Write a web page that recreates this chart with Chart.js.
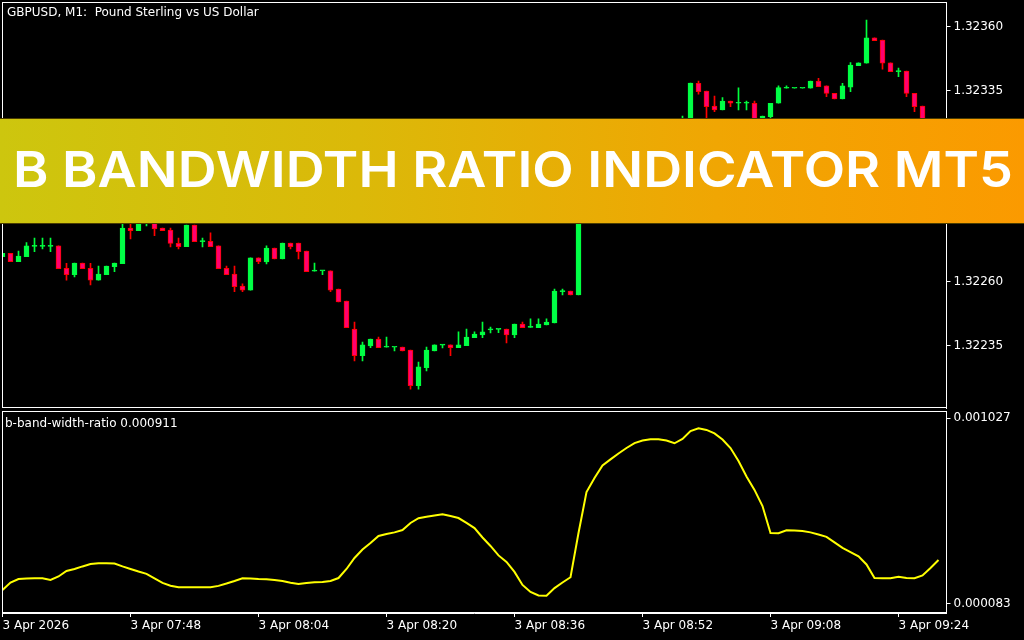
<!DOCTYPE html>
<html>
<head>
<meta charset="utf-8">
<script src="https://cdn.jsdelivr.net/npm/chart.js@4/dist/chart.umd.min.js"></script>
<style>
  body { margin: 0; background: #000; width: 1024px; height: 640px; overflow: hidden; position: relative; font-family: "DejaVu Sans", sans-serif; }
  canvas { position: absolute; left: 0; }
  #main { top: 0; }
  #ind { top: 409px; }
  .lbl { position: absolute; color: #fff; font-size: 12px; line-height: 14px; white-space: pre; }
  #banner { position: absolute; left: 0; top: 118px; width: 1024px; height: 104px;
    background: linear-gradient(90deg, #cdc60e 0%, #dbb909 35%, #f0a603 70%, #fb9a00 100%);
    border-top: 1px solid #4a3c00; border-bottom: 1px solid #4a3c00; overflow: hidden; }
  #banner span { position: absolute; left: 13px; top: 20px; color: #fff; font-family: Inter, sans-serif;
    font-weight: 600; font-size: 50px; line-height: 60px; white-space: nowrap; transform-origin: 0 0; }
</style>
</head>
<body>
<canvas id="main" width="1024" height="409"></canvas>
<canvas id="ind" width="1024" height="231"></canvas>
<div class="lbl" style="left:7px;top:5px">GBPUSD, M1:  Pound Sterling vs US Dollar</div>
<div class="lbl" style="left:5px;top:416px">b-band-width-ratio 0.000911</div>
<div id="banner"><span id="bannerText">B BANDWIDTH RATIO INDICATOR MT5</span></div>
<script>
// GBPUSD M1 candles, 07:32 .. 09:29
var opens = [1.322699,1.322712,1.322679,1.322699,1.322739,1.322739,1.322739,1.322741,1.322653,1.322628,
  1.322674,1.322653,1.322607,1.322628,1.322660,1.322671,1.322811,1.322801,1.322839,1.322874,
  1.322811,1.322803,1.322751,1.322738,1.322823,1.322758,1.322759,1.322741,1.322653,1.322631,
  1.322584,1.322568,1.322694,1.322678,1.322733,1.322690,1.322752,1.322752,1.322721,1.322642,
  1.322643,1.322643,1.322572,1.322525,1.322415,1.322311,1.322349,1.322376,1.322344,1.322344,
  1.322345,1.322333,1.322193,1.322264,1.322330,1.322352,1.322353,1.322342,1.322350,1.322381,
  1.322392,1.322412,1.322414,1.322415,1.322392,1.322435,1.322422,1.322421,1.322431,1.322439,
  1.322562,1.322564,1.322549,1.322941,1.322999,1.322980,1.323058,1.323038,1.323117,1.323097,
  1.323156,1.323136,1.323176,1.323156,1.323195,1.323176,1.323215,1.323378,1.323348,1.323289,
  1.323274,1.323309,1.323300,1.323300,1.323300,1.323203,1.323247,1.323300,1.323359,1.323359,
  1.323359,1.323359,1.323387,1.323368,1.323339,1.323317,1.323363,1.323447,1.323457,1.323556,
  1.323548,1.323458,1.323424,1.323426,1.323339,1.323289,1.323215,1.323176];
var highs = [1.322712,1.322712,1.322721,1.322754,1.322772,1.322772,1.322772,1.322741,1.322673,1.322674,
  1.322674,1.322673,1.322662,1.322662,1.322674,1.322843,1.322850,1.322890,1.322897,1.322890,
  1.322811,1.322811,1.322772,1.322823,1.322823,1.322772,1.322792,1.322741,1.322662,1.322662,
  1.322592,1.322694,1.322694,1.322741,1.322733,1.322752,1.322752,1.322752,1.322721,1.322674,
  1.322643,1.322643,1.322572,1.322525,1.322443,1.322364,1.322376,1.322384,1.322384,1.322344,
  1.322345,1.322333,1.322286,1.322345,1.322353,1.322352,1.322353,1.322404,1.322415,1.322404,
  1.322443,1.322423,1.322414,1.322415,1.322435,1.322443,1.322455,1.322455,1.322455,1.322572,
  1.322572,1.322564,1.322952,1.323019,1.323031,1.323078,1.323085,1.323136,1.323129,1.323172,
  1.323168,1.323187,1.323195,1.323207,1.323215,1.323250,1.323379,1.323387,1.323348,1.323328,
  1.323322,1.323309,1.323360,1.323309,1.323309,1.323250,1.323300,1.323368,1.323368,1.323359,
  1.323359,1.323387,1.323398,1.323368,1.323339,1.323378,1.323459,1.323458,1.323626,1.323556,
  1.323548,1.323458,1.323438,1.323426,1.323339,1.323289,1.323227,1.323176];
var lows = [1.322699,1.322679,1.322679,1.322699,1.322718,1.322729,1.322718,1.322652,1.322607,1.322620,
  1.322652,1.322588,1.322607,1.322628,1.322640,1.322671,1.322768,1.322801,1.322819,1.322781,
  1.322801,1.322737,1.322729,1.322738,1.322758,1.322737,1.322738,1.322652,1.322628,1.322562,
  1.322562,1.322568,1.322671,1.322670,1.322690,1.322690,1.322729,1.322690,1.322640,1.322642,
  1.322628,1.322562,1.322522,1.322421,1.322290,1.322290,1.322342,1.322342,1.322344,1.322330,
  1.322330,1.322180,1.322180,1.322251,1.322330,1.322341,1.322311,1.322342,1.322350,1.322381,
  1.322381,1.322400,1.322401,1.322361,1.322381,1.322421,1.322422,1.322421,1.322431,1.322439,
  1.322549,1.322549,1.322549,1.322929,1.322960,1.322968,1.323019,1.323031,1.323078,1.323085,
  1.323117,1.323125,1.323144,1.323144,1.323156,1.323164,1.323215,1.323336,1.323227,1.323267,
  1.323274,1.323287,1.323274,1.323274,1.323195,1.323187,1.323230,1.323300,1.323359,1.323359,
  1.323359,1.323359,1.323365,1.323326,1.323317,1.323317,1.323345,1.323447,1.323457,1.323545,
  1.323434,1.323424,1.323404,1.323326,1.323267,1.323195,1.323156,1.323136];
var closes = [1.322712,1.322679,1.322701,1.322741,1.322739,1.322739,1.322739,1.322652,1.322628,1.322674,
  1.322652,1.322607,1.322631,1.322662,1.322674,1.322811,1.322801,1.322874,1.322882,1.322808,
  1.322801,1.322751,1.322738,1.322823,1.322758,1.322758,1.322738,1.322652,1.322628,1.322581,
  1.322568,1.322694,1.322679,1.322733,1.322690,1.322752,1.322738,1.322718,1.322640,1.322642,
  1.322643,1.322568,1.322522,1.322421,1.322311,1.322353,1.322376,1.322342,1.322344,1.322344,
  1.322330,1.322193,1.322267,1.322333,1.322353,1.322352,1.322342,1.322353,1.322384,1.322396,
  1.322404,1.322412,1.322414,1.322392,1.322435,1.322421,1.322422,1.322435,1.322443,1.322564,
  1.322562,1.322549,1.322941,1.322999,1.322980,1.323058,1.323038,1.323117,1.323097,1.323156,
  1.323136,1.323176,1.323156,1.323195,1.323176,1.323215,1.323379,1.323345,1.323287,1.323274,
  1.323309,1.323300,1.323300,1.323300,1.323215,1.323250,1.323300,1.323361,1.323359,1.323359,
  1.323359,1.323387,1.323365,1.323339,1.323317,1.323368,1.323450,1.323458,1.323556,1.323545,
  1.323457,1.323424,1.323424,1.323339,1.323287,1.323215,1.323176,1.323156];

// b-band-width-ratio values per bar
var bbwr = [0.000154,0.000192,0.000210,0.000213,0.000214,0.000214,0.000205,0.000223,0.000251,0.000261,
  0.000274,0.000286,0.000290,0.000290,0.000289,0.000274,0.000261,0.000248,0.000236,0.000213,
  0.000190,0.000176,0.000168,0.000168,0.000168,0.000168,0.000168,0.000175,0.000187,0.000200,
  0.000214,0.000213,0.000210,0.000209,0.000205,0.000200,0.000191,0.000185,0.000190,0.000193,
  0.000195,0.000200,0.000215,0.000261,0.000317,0.000360,0.000393,0.000429,0.000439,0.000447,
  0.000459,0.000495,0.000519,0.000527,0.000533,0.000539,0.000530,0.000520,0.000495,0.000469,
  0.000421,0.000378,0.000330,0.000297,0.000246,0.000180,0.000144,0.000126,0.000125,0.000164,
  0.000192,0.000219,0.000444,0.000652,0.000724,0.000787,0.000818,0.000848,0.000876,0.000901,
  0.000914,0.000920,0.000920,0.000914,0.000900,0.000922,0.000962,0.000976,0.000968,0.000950,
  0.000919,0.000876,0.000810,0.000731,0.000663,0.000581,0.000444,0.000443,0.000458,0.000457,
  0.000454,0.000447,0.000436,0.000424,0.000396,0.000368,0.000347,0.000325,0.000284,0.000215,
  0.000214,0.000214,0.000222,0.000215,0.000214,0.000228,0.000266,0.000307];

var priceTicks = [1.32235, 1.32260, 1.32285, 1.32310, 1.32335, 1.32360];
var bbwrTicks = [0.000083, 0.001027];
var timeTicks = ['3 Apr 2026', '3 Apr 07:48', '3 Apr 08:04', '3 Apr 08:20',
  '3 Apr 08:36', '3 Apr 08:52', '3 Apr 09:08', '3 Apr 09:24'];

// one label per minute, plus one empty slot on the right edge
var minutes = [];
for (var m = 0; m <= opens.length; m++) {
  var t = 7 * 60 + 32 + m;
  minutes.push(('0' + Math.floor(t / 60)).slice(-2) + ':' + ('0' + (t % 60)).slice(-2));
}

var upBody = '#00ff48', upLine = '#00ff3c';
var dnBody = '#ff0070', dnLine = '#ff0000';
var isUp = opens.map(function (o, i) { return closes[i] >= o; });

var axisFont = { family: 'DejaVu Sans', size: 12 };

var paneBorder = {
  id: 'paneBorder',
  afterDraw: function (chart) {
    var a = chart.chartArea, c = chart.ctx;
    c.save();
    c.strokeStyle = '#ffffff';
    c.lineWidth = 1;
    c.strokeRect(a.left, a.top + 0.5, a.right - a.left, a.bottom - a.top - 1);
    c.restore();
  }
};

// keep the panes where MT5 puts them: no extra room for edge labels
function fixY(scale) {
  scale.width = 77.5;
  scale.paddingTop = 0;
  scale.paddingBottom = 0;
}
function fixX(scale) {
  scale.height = 27;
  scale.paddingLeft = 0;
  scale.paddingRight = 0;
}

new Chart(document.getElementById('main'), {
  type: 'bar',
  data: {
    labels: minutes,
    datasets: [{
      label: 'body',
      data: opens.map(function (o, i) { return [o, closes[i]]; }),
      backgroundColor: isUp.map(function (u) { return u ? upBody : dnBody; }),
      borderColor: isUp.map(function (u) { return u ? upLine : dnLine; }),
      borderWidth: 1,
      borderSkipped: false,
      barThickness: 5,
      minBarLength: 1,
      grouped: false,
      order: 0
    }, {
      label: 'wick',
      data: lows.map(function (l, i) { return [l, highs[i]]; }),
      backgroundColor: isUp.map(function (u) { return u ? upLine : dnLine; }),
      borderWidth: 0,
      barThickness: 1,
      grouped: false,
      order: 1
    }]
  },
  options: {
    responsive: false,
    animation: false,
    layout: { padding: { left: 2.5, top: 2, right: 0, bottom: 1 } },
    plugins: { legend: { display: false }, tooltip: { enabled: false } },
    scales: {
      x: { display: false, offset: false },
      y: {
        position: 'right',
        min: 1.3221059,
        max: 1.3236968,
        afterBuildTicks: function (scale) {
          scale.ticks = priceTicks.map(function (v) { return { value: v }; });
        },
        afterFit: fixY,
        ticks: {
          color: '#ffffff', font: axisFont, padding: 3,
          callback: function (v) { return v.toFixed(5); }
        },
        grid: { drawOnChartArea: false, color: '#ffffff', tickLength: 4 },
        border: { color: '#ffffff' }
      }
    }
  },
  plugins: [paneBorder]
});

new Chart(document.getElementById('ind'), {
  type: 'line',
  data: {
    labels: minutes,
    datasets: [{
      label: 'b-band-width-ratio',
      data: bbwr,
      borderColor: '#ffff00',
      borderWidth: 2,
      pointRadius: 0,
      tension: 0
    }]
  },
  options: {
    responsive: false,
    animation: false,
    layout: { padding: { left: 2.5, top: 2, right: 0, bottom: 0 } },
    plugins: { legend: { display: false }, tooltip: { enabled: false } },
    scales: {
      x: {
        offset: false,
        afterFit: fixX,
        ticks: {
          color: '#ffffff', font: axisFont, padding: 2, align: 'start',
          autoSkip: false, maxRotation: 0,
          callback: function (v, i) { return i % 16 === 0 ? timeTicks[i / 16] : null; }
        },
        grid: { drawOnChartArea: false, color: '#ffffff', tickLength: 4 },
        border: { color: '#ffffff' }
      },
      y: {
        position: 'right',
        min: 0.0000372,
        max: 0.0010641,
        afterBuildTicks: function (scale) {
          scale.ticks = bbwrTicks.map(function (v) { return { value: v }; });
        },
        afterFit: fixY,
        ticks: {
          color: '#ffffff', font: axisFont, padding: 3,
          callback: function (v) { return v.toFixed(6); }
        },
        grid: { drawOnChartArea: false, color: '#ffffff', tickLength: 4 },
        border: { color: '#ffffff' }
      }
    }
  },
  plugins: [paneBorder]
});

// stretch the banner caption to its span in the picture
var bt = document.getElementById('bannerText');
bt.style.transform = 'scaleX(' + (1000 / bt.getBoundingClientRect().width) + ')';
</script>
</body>
</html>
